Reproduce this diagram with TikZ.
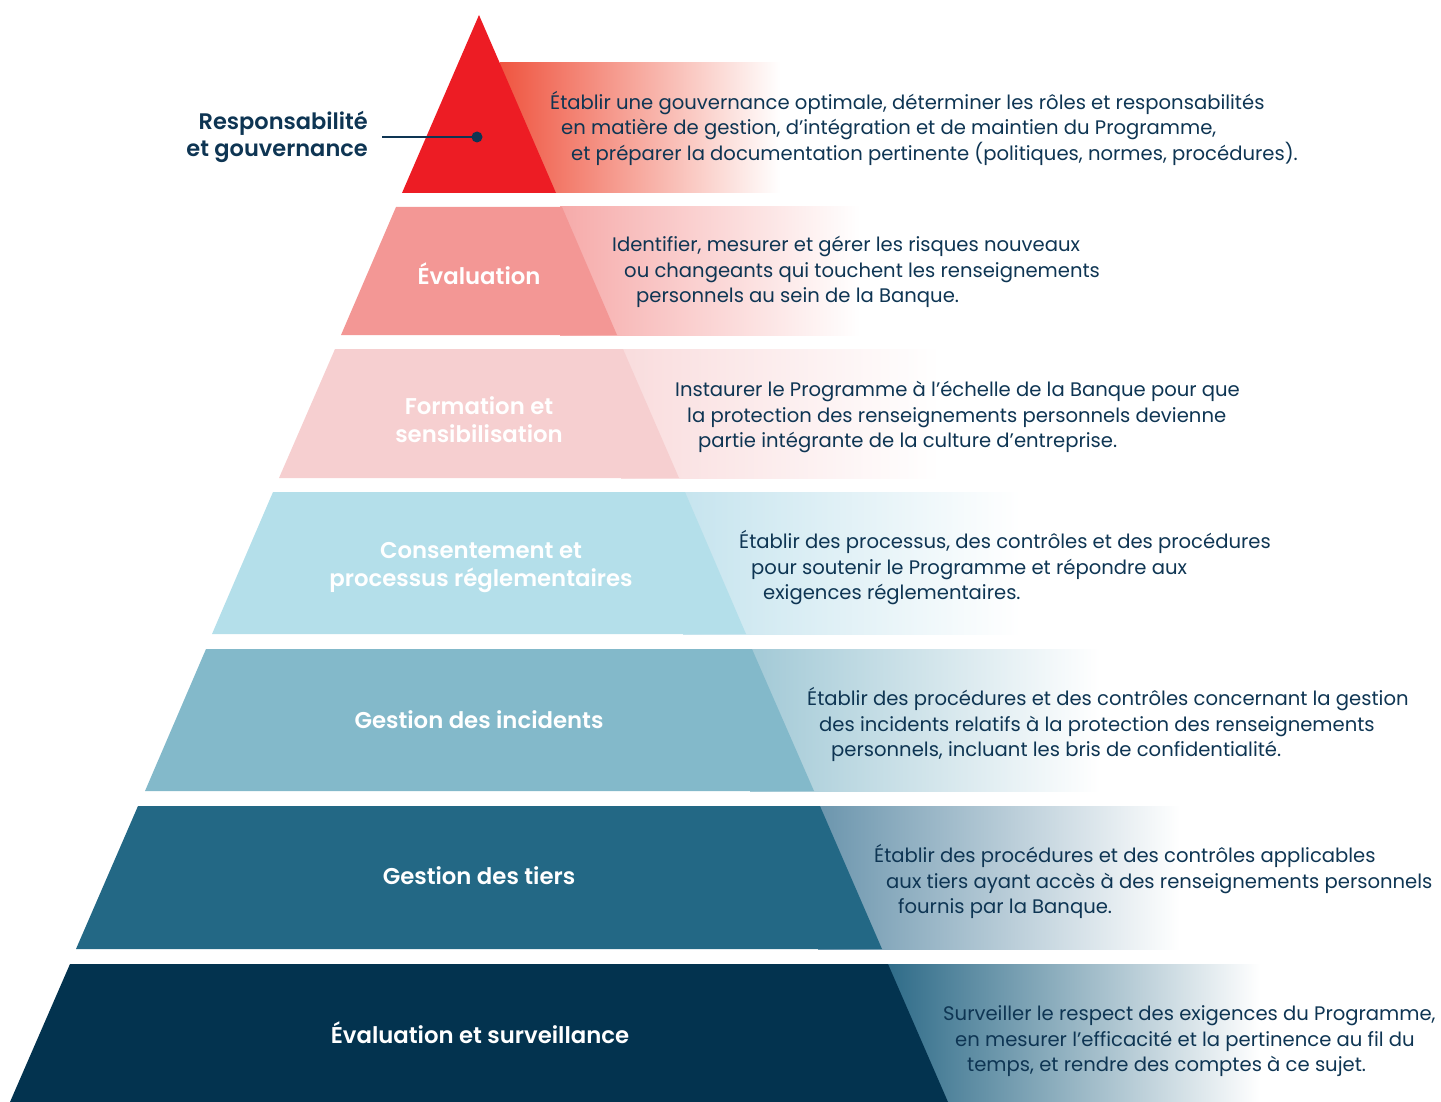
\documentclass[tikz,border=0pt]{standalone}
\usepackage{fontspec}
\IfFontExistsTF{Poppins SemiBold}{\setmainfont{Poppins}[BoldFont={Poppins SemiBold}]}{\setmainfont{Poppins}}
\definecolor{navy}{HTML}{0E3553}
\definecolor{c1}{HTML}{ED1C24}\definecolor{g1}{HTML}{EF5540}
\definecolor{c2}{HTML}{F39795}\definecolor{g2}{HTML}{F6AAA9}
\definecolor{c3}{HTML}{F6CFD0}\definecolor{g3}{HTML}{F9DCDD}
\definecolor{c4}{HTML}{B4DFEA}\definecolor{g4}{HTML}{C6E4EE}
\definecolor{c5}{HTML}{83B9CA}\definecolor{g5}{HTML}{A2C9D6}
\definecolor{c6}{HTML}{236885}\definecolor{g6}{HTML}{6B95AD}
\definecolor{c7}{HTML}{03334F}\definecolor{g7}{HTML}{2E6B88}
\begin{document}
\begin{tikzpicture}[x=1pt,y=-1pt,
  desc/.style={anchor=base west,inner sep=0pt,text=navy,font=\fontsize{19.6}{22}\selectfont},
  lab/.style={anchor=base,inner sep=0pt,text=white,font=\fontsize{22.8}{26}\selectfont\bfseries},
  side/.style={anchor=base east,inner sep=0pt,text=navy,font=\fontsize{22.5}{26}\selectfont\bfseries}]
\useasboundingbox (0,0) rectangle (1441,1102);
% bands
\shade[left color=g1,right color=white] (500,63) rectangle (780,193);
\shade[left color=g2,right color=white] (560,207) rectangle (860,335);
\shade[left color=g3,right color=white] (621,349) rectangle (940,478);
\shade[left color=g4,right color=white] (683,492) rectangle (1020,634);
\shade[left color=g5,right color=white] (750,649) rectangle (1100,791);
\shade[left color=g6,right color=white] (818,806) rectangle (1180,949);
\shade[left color=g7,right color=white] (886,964) rectangle (1260,1102);
% pyramid layers
\fill[c1] (479,15) -- (556,193) -- (402,193) -- cycle;
\fill[c2] (396,207) -- (562,207) -- (617,335) -- (341,335) -- cycle;
\fill[c3] (335,349) -- (623,349) -- (679,478) -- (279,478) -- cycle;
\fill[c4] (273,492) -- (685,492) -- (746,634) -- (212,634) -- cycle;
\fill[c5] (206,649) -- (752,649) -- (814,791) -- (145,791) -- cycle;
\fill[c6] (138,806) -- (820,806) -- (882,949) -- (76,949) -- cycle;
\fill[c7] (70,964) -- (888,964) -- (948,1102) -- (10,1102) -- cycle;
% side label
\node[side] (s1) at (368,130) {Responsabilité};
\node[side] (s2) at (368,157) {et gouvernance};
\coordinate (ls) at (382,137);
\coordinate (dot) at (477,137);
\draw[navy,line width=1.6pt] (ls) -- (dot);
\fill[navy] (dot) circle (5.5);
% layer labels
\node[lab] (l2) at (479,284) {Évaluation};
\node[lab] (l3a) at (479,414) {Formation et};
\node[lab] (l3b) at (479,442) {sensibilisation};
\node[lab] (l4a) at (481,558) {Consentement et};
\node[lab] (l4b) at (481,586) {processus réglementaires};
\node[lab] (l5) at (479,728) {Gestion des incidents};
\node[lab] (l6) at (479,884) {Gestion des tiers};
\node[lab] (l7) at (480,1043) {Évaluation et surveillance};
% descriptions
\node[desc] (d1a) at (550,109.5) {Établir une gouvernance optimale, déterminer les rôles et responsabilités};
\node[desc] (d1b) at (561,135) {en matière de gestion, d’intégration et de maintien du Programme,};
\node[desc] (d1c) at (571,160.5) {et préparer la documentation pertinente (politiques, normes, procédures).};
\node[desc] (d2a) at (612,251.5) {Identifier, mesurer et gérer les risques nouveaux};
\node[desc] (d2b) at (624,277) {ou changeants qui touchent les renseignements};
\node[desc] (d2c) at (636,302.5) {personnels au sein de la Banque.};
\node[desc] (d3a) at (675,396.5) {Instaurer le Programme à l’échelle de la Banque pour que};
\node[desc] (d3b) at (687,422) {la protection des renseignements personnels devienne};
\node[desc] (d3c) at (698,447.5) {partie intégrante de la culture d’entreprise.};
\node[desc] (d4a) at (739,548.5) {Établir des processus, des contrôles et des procédures};
\node[desc] (d4b) at (751,574) {pour soutenir le Programme et répondre aux};
\node[desc] (d4c) at (763,599.5) {exigences réglementaires.};
\node[desc] (d5a) at (807,705.5) {Établir des procédures et des contrôles concernant la gestion};
\node[desc] (d5b) at (819,731) {des incidents relatifs à la protection des renseignements};
\node[desc] (d5c) at (831,756.5) {personnels, incluant les bris de confidentialité.};
\node[desc] (d6a) at (874,862.5) {Établir des procédures et des contrôles applicables};
\node[desc] (d6b) at (886,888) {aux tiers ayant accès à des renseignements personnels};
\node[desc] (d6c) at (898,913.5) {fournis par la Banque.};
\node[desc] (d7a) at (943,1020.5) {Surveiller le respect des exigences du Programme,};
\node[desc] (d7b) at (955,1046) {en mesurer l’efficacité et la pertinence au fil du};
\node[desc] (d7c) at (967,1071.5) {temps, et rendre des comptes à ce sujet.};
\end{tikzpicture}
\end{document}
